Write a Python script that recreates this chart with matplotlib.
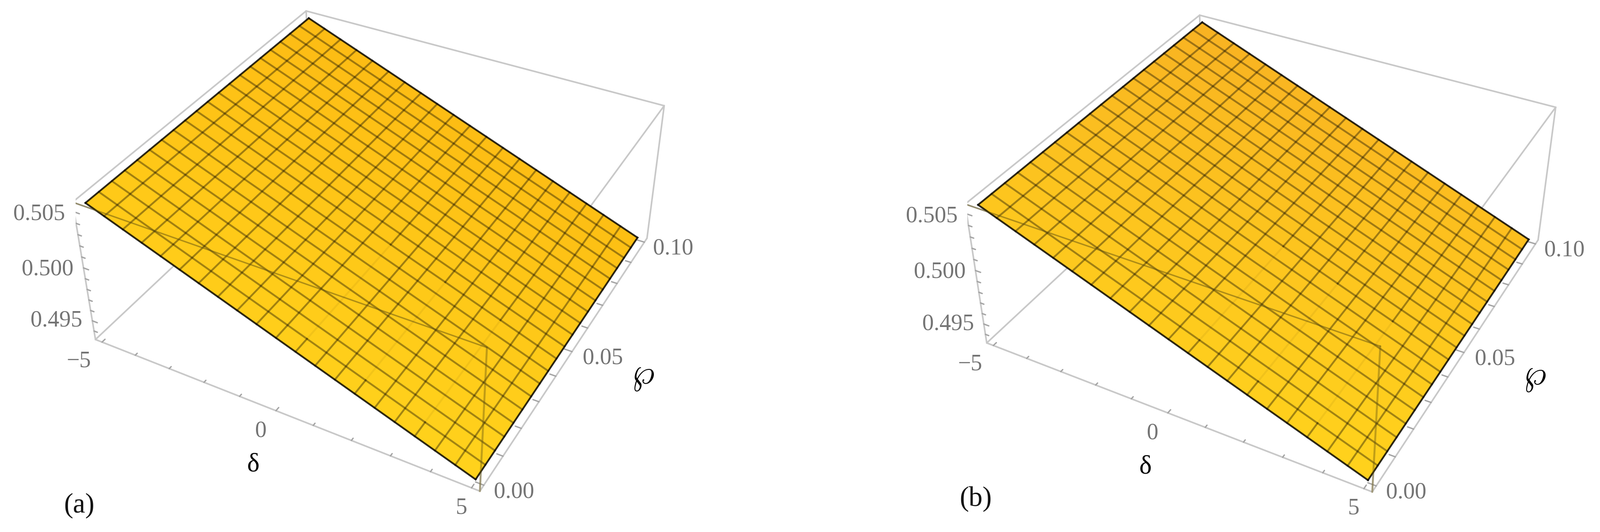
import numpy as np
import matplotlib
matplotlib.use('Agg')
import matplotlib.pyplot as plt
from matplotlib.colors import to_rgba
from mpl_toolkits.mplot3d import proj3d

plt.rcParams['mathtext.fontset'] = 'cm'
W, H = 3619, 1204

# ---- values ----
delta_nodes = [-5, -4.5, -4, -3.5, -3, -2.5, -2, -1.5, -1, -0.5, 0, 0.5, 1, 1.5, 2, 2.5, 3, 3.5, 4, 4.5, 5]
wp_nodes = [0, 0.005, 0.01, 0.015, 0.02, 0.025, 0.03, 0.035, 0.04, 0.045, 0.05, 0.055, 0.06, 0.065, 0.07, 0.075, 0.08, 0.085, 0.09, 0.095, 0.1]
z_by_delta = [0.5056, 0.50499, 0.50438, 0.50377, 0.50316, 0.50255, 0.50194, 0.50133, 0.50072, 0.50011, 0.4995,
              0.49889, 0.49828, 0.49767, 0.49706, 0.49645, 0.49584, 0.49523, 0.49462, 0.49401, 0.4934]
z_shift_by_wp = [0.0] * 21

delta_ticks = [-5, -4, -3, -2, -1, 0, 1, 2, 3, 4, 5]
wp_ticks = [0, 0.01, 0.02, 0.03, 0.04, 0.05, 0.06, 0.07, 0.08, 0.09, 0.1]
z_ticks = [0.494, 0.495, 0.496, 0.497, 0.498, 0.499, 0.5, 0.501, 0.502, 0.503, 0.504, 0.505]
delta_labels = {-5: '\u22125', 0: '0', 5: '5'}
wp_labels = {0: '0.00', 0.05: '0.05', 0.1: '0.10'}
z_labels = {0.505: '0.505', 0.5: '0.500', 0.495: '0.495'}

delta_lim = (-5.2, 5.2)
wp_lim = (-0.002, 0.102)
z_lim = (0.49316, 0.50584)

# camera per panel: elev, azim, roll, log focal, log y aspect, log z aspect, scale, cx, cy
view_a = (36.74619, -60.91873, 0.47974, -0.80570, -0.01686, -0.91943, 7304.59657, 864.82941, 501.46901)
view_b = (35.91564, -61.57872, 0.06382, -0.81110, 0.00021, -0.91823, 7323.09336, 2884.03625, 505.80761)

# mesh lines of constant delta that break up over the lower band of the surface in the source
broken_delta_lines = (0.5, 2, 3.5)

fig = plt.figure(figsize=(W / 100, H / 100), dpi=100, facecolor='white')


def panel(view, tag, tagpos, corners):
    el, az, ro, lf, lb1, lb2, s, cx, cy = view
    side = 0.185 * s
    left = cx - 0.095 * s
    bottom = H - cy - 0.095 * s
    ax = fig.add_axes([left / W, bottom / H, side / W, side / H], projection='3d', computed_zorder=False)
    ax.set_xlim(*delta_lim)
    ax.set_ylim(*wp_lim)
    ax.set_zlim(*z_lim)
    ax.view_init(el, az, ro)
    ax.set_proj_type('persp', focal_length=float(np.exp(lf)))
    ax.set_box_aspect((1.0, float(np.exp(lb1)), float(np.exp(lb2))))
    ax.set_axis_off()
    ax.patch.set_alpha(0)

    X, Y = np.meshgrid(delta_nodes, wp_nodes)
    Z = np.array(z_by_delta)[None, :] + np.array(z_shift_by_wp)[:, None]

    # surface colour blends between the four corner shades
    u = (X + 5) / 10.0
    v = Y / 0.1
    c = {k: np.array(to_rgba(col)) for k, col in corners.items()}
    fc = ((1 - u) * (1 - v))[..., None] * c['left'] + (u * (1 - v))[..., None] * c['bottom'] \
        + ((1 - u) * v)[..., None] * c['top'] + (u * v)[..., None] * c['right']
    fc[..., 3] = 1

    gray = '#c8c8c8'

    def seg(P, Q, zo=1, col=gray, lw=2.6, a=1.0):
        ax.plot([P[0], Q[0]], [P[1], Q[1]], [P[2], Q[2]], color=col, lw=lw, alpha=a, zorder=zo,
                solid_capstyle='round')

    x0, x1 = delta_lim
    y0, y1 = wp_lim
    z0, z1 = z_lim
    A, B, C, D = (x0, y0, z0), (x1, y0, z0), (x1, y1, z0), (x0, y1, z0)
    E, F, G, K = (x0, y0, z1), (x1, y0, z1), (x1, y1, z1), (x0, y1, z1)
    for P, Q in [(A, B), (B, C), (A, E), (E, K), (K, G), (G, C), (A, D), (G, F), (B, F), (E, F), (K, D)]:
        seg(P, Q)

    ax.plot_surface(X, Y, Z, rstride=1, cstride=1, facecolors=fc, shade=False, linewidth=0,
                    edgecolor='none', antialiased=False, zorder=3)

    n = len(delta_nodes)
    mesh_a, edge_a, mesh_lw, edge_lw = 0.37, 0.82, 3.0, 2.9
    for j in range(n):  # lines of constant wp
        inner = 0 < j < n - 1
        ax.plot(X[j], Y[j], Z[j], color='k', alpha=mesh_a if inner else edge_a,
                lw=mesh_lw if inner else edge_lw, zorder=4)
    for i in range(n):  # lines of constant delta
        inner = 0 < i < n - 1
        if delta_nodes[i] in broken_delta_lines:
            ax.plot(X[:2, i], Y[:2, i], Z[:2, i], color='k', alpha=mesh_a, lw=mesh_lw, zorder=4)
            ax.plot(X[1:10, i], Y[1:10, i], Z[1:10, i], color='k', alpha=0.05, lw=mesh_lw, zorder=4)
            ax.plot(X[9:, i], Y[9:, i], Z[9:, i], color='k', alpha=mesh_a, lw=mesh_lw, zorder=4)
        else:
            ax.plot(X[:, i], Y[:, i], Z[:, i], color='k', alpha=mesh_a if inner else edge_a,
                    lw=mesh_lw if inner else edge_lw, zorder=4)

    seg(E, F, zo=5, col='#5f5010', a=0.5, lw=2.3)
    seg(F, B, zo=5, col='#6b5a10', a=0.42, lw=3.2)

    tc = '#a4a4a4'
    for t in delta_ticks:
        L = 0.0012 if t in delta_labels else 0.0008
        seg((t, y0, z0), (t, y0 + L, z0), col=tc, lw=2.2, zo=2)
    for t in wp_ticks:
        L = 0.2 if t in wp_labels else 0.15
        seg((x1, t, z0), (x1 - L, t, z0), col=tc, lw=2.2, zo=2)
    for t in z_ticks:
        L = 0.15 if t in z_labels else 0.1
        seg((x0, y0, t), (x0 + L, y0, t), col=tc, lw=2.2, zo=2)

    M = ax.get_proj()

    def label(x, y, z, txt, dx, dy, **kw):
        xp, yp, _ = proj3d.proj_transform(x, y, z, M)
        ax.annotate(txt, xy=(float(xp), float(yp)), xycoords='data', xytext=(dx, -dy),
                    textcoords='offset pixels', ha='center', va='center', zorder=9,
                    annotation_clip=False, **kw)

    tk = dict(family='Liberation Serif', fontsize=37.5, color='#747474')
    for t, off in zip(delta_labels, [(-53, 43), (-34, 46), (-23, 45)]):
        label(t, y0, z0, delta_labels[t], off[0], off[1], **tk)
    for t, off in zip(wp_labels, [(68, 15), (70, 15), (65, 14)]):
        label(x1, t, z0, wp_labels[t], off[0], off[1], **tk)
    for t, off in zip(z_labels, [(-79, 5), (-81, 3), (-81, 0)]):
        label(x0, y0, t, z_labels[t], off[0], off[1], **tk)
    label(0, y0, z0, '\u03b4', -51, 123, family='Liberation Serif', fontsize=43, color='k')
    label(x1, 0.05, z0, r'$\wp$', 160, 53, fontsize=58, color='k')
    fig.text(tagpos[0] / W, 1 - tagpos[1] / H, tag, family='Liberation Serif', fontsize=45,
             color='#111111', ha='center', va='center')


panel(view_a, '(a)', (179, 1144),
      dict(left='#FFCA18', bottom='#FFD21C', top='#FDBB14', right='#FDBE13'))
panel(view_b, '(b)', (2207, 1130),
      dict(left='#FDC61E', bottom='#FFD21C', top='#F8B222', right='#FDBF1E'))
fig.savefig('out.png', dpi=100)
